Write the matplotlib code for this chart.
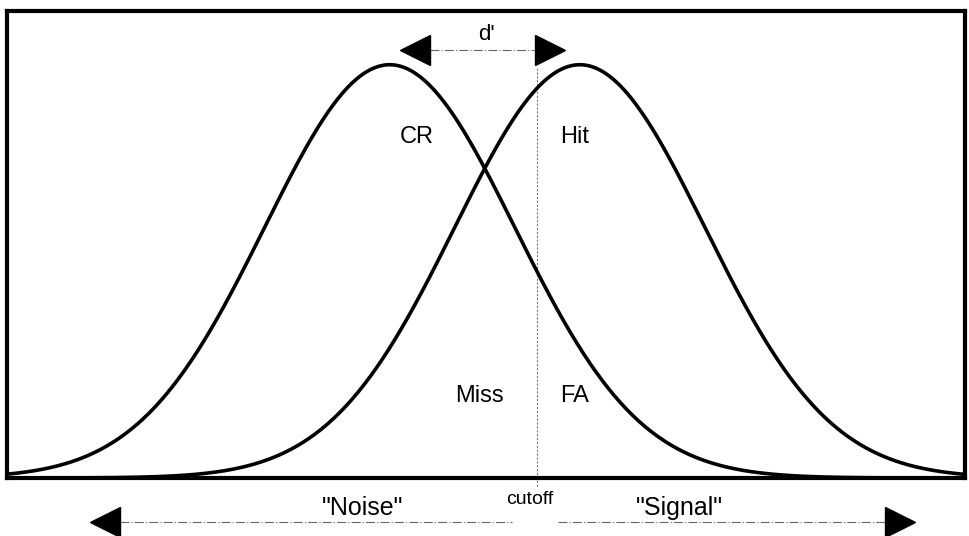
import numpy as np
import matplotlib.pyplot as plt

# distribution parameters (in sd units)
means = {"noise": 0.0, "signal": 1.52}
sd = 1.0
cutoff = 1.176
x_range = (-3.06, 4.6)

cell_labels = ["CR", "Hit", "Miss", "FA"]
cell_pos = [(0.216, 0.825), (1.48, 0.825), (0.72, 0.198), (1.48, 0.198)]

plt.rcParams["font.family"] = ["Liberation Sans", "DejaVu Sans"]

fig = plt.figure(figsize=(9.69, 5.36), dpi=100)
ax = fig.add_axes([7 / 969, 58 / 536, 958 / 969, 467 / 536])

xs = np.linspace(x_range[0], x_range[1], 800)
for name, mu in means.items():
    ys = np.exp(-0.5 * ((xs - mu) / sd) ** 2)  # peak normalised to 1
    ax.plot(xs, ys, color="black", lw=2.6, solid_capstyle="round")

ax.set_xlim(*x_range)
ax.set_ylim(0, 1.13)
ax.set_xticks([])
ax.set_yticks([])
for sp in ax.spines.values():
    sp.set_linewidth(3.0)

# cutoff
ax.plot([cutoff, cutoff], [0.992, -0.022], color="#777", lw=0.8,
        ls=(0, (2, 1.5)), clip_on=False, zorder=1)

# d' arrow
dash = (0, (8, 2, 1, 2))
ax.plot([0.32, 1.15], [1.036, 1.036], color="#666", lw=0.8, ls=dash)
ax.plot([0.2], [1.036], marker="<", ms=22, color="black", clip_on=False)
ax.plot([1.28], [1.036], marker=">", ms=22, color="black", clip_on=False)
ax.text(0.776, 1.072, "d'", ha="center", va="center", fontsize=16)

for lab, (tx, ty) in zip(cell_labels, cell_pos):
    ax.text(tx, ty, lab, ha="center", va="center", fontsize=17)

# bottom axis arrow
yb = -0.1065
ax.plot([-2.16, 0.976], [yb, yb], color="#666", lw=0.8, ls=dash, clip_on=False)
ax.plot([1.344, 3.96], [yb, yb], color="#666", lw=0.8, ls=dash, clip_on=False)
ax.plot([-2.28], [yb], marker="<", ms=22, color="black", clip_on=False)
ax.plot([4.08], [yb], marker=">", ms=22, color="black", clip_on=False)
ax.text(-0.216, -0.0726, '"Noise"', ha="center", va="center", fontsize=18)
ax.text(2.32, -0.0726, '"Signal"', ha="center", va="center", fontsize=18)
ax.text(1.12, -0.051, "cutoff", ha="center", va="center", fontsize=14)

fig.savefig("out.png", dpi=100)
